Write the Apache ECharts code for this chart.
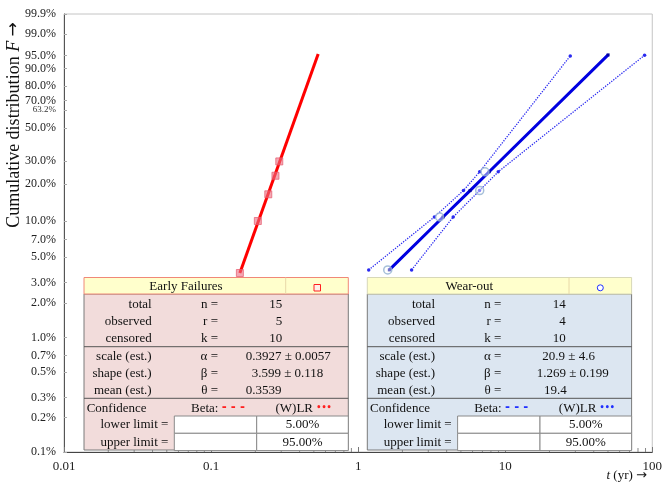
<!DOCTYPE html>
<html><head><meta charset="utf-8">
<script src="https://cdn.jsdelivr.net/npm/echarts@6/dist/echarts.min.js"></script>
<style>html,body{margin:0;padding:0;background:#fff}#c{width:665px;height:487px}</style>
</head><body><div id="c"></div>
<script>
// ---------- data ----------
const yTickF = [99.9, 99, 95, 90, 80, 70, 63.2, 50, 30, 20, 10, 7, 5, 3, 2, 1, 0.7, 0.5, 0.3, 0.2, 0.1];
const xTickLabels = ['0.01', '0.1', '1', '10', '100'];

const redPointsT = [0.157, 0.208, 0.245, 0.274, 0.291];
const redPointsF = [3.64, 10.05, 16.6, 23.2, 29.7];
const redFitT = [0.157, 0.535];
const redFitF = [3.64, 95.4];

const bluePointsT = [1.59, 3.58, 6.71, 7.29];
const bluePointsF = [3.87, 10.85, 17.78, 24.88];
const blueFitT = [1.63, 3.78, 5.77, 7.78, 50.1];
const blueFitF = [3.87, 10.85, 17.78, 24.88, 95.15];
const blueUpperT = [1.18, 3.30, 5.20, 6.71, 27.7];
const blueUpperF = [3.87, 10.85, 17.78, 24.88, 94.85];
const blueLowerT = [2.31, 4.43, 6.69, 8.97, 88.7];
const blueLowerF = [3.87, 10.85, 17.78, 24.88, 95.06];

const rowLabels = ['total', 'observed', 'censored', 'scale (est.)', 'shape (est.)', 'mean (est.)'];
const rowSymbols = ['n =', 'r =', 'k =', 'α =', 'β =', 'θ ='];
const earlyTitle = 'Early Failures';
const earlyValues = ['15', '5', '10', '0.3927 ± 0.0057', '3.599 ± 0.118', '0.3539'];
const wearTitle = 'Wear-out';
const wearValues = ['14', '4', '10', '20.9 ± 4.6', '1.269 ± 0.199', '19.4'];
const confLimitLabels = ['lower limit =', 'upper limit ='];
const confLimitValues = ['5.00%', '95.00%'];

// ---------- helpers ----------
const FONT = 'Liberation Serif';
const W = p => Math.log(-Math.log(1 - p / 100)); // Weibull probability-paper transform
const pairs = (ts, fs) => ts.map((t, i) => [t, W(fs[i])]);
const yMin = W(0.1), yMax = W(99.9);
const yTickVals = yTickF.map(W);

const xMinorTicks = [];
[0.01, 0.1, 1, 10].forEach(d => { for (let k = 2; k <= 9; k++) xMinorTicks.push(+(d * k).toPrecision(2)); });

// ---------- tables ----------
function txt(x, y, text, align, extra) {
  return Object.assign({
    type: 'text', x: x, y: y, z: 100,
    style: { text: text, textAlign: align || 'left', textVerticalAlign: 'middle',
      font: '13px "' + FONT + '"', fill: '#111' }
  }, extra || {});
}
function rect(x, y, w, h, fill, stroke) {
  return { type: 'rect', z: 99, shape: { x: x, y: y, width: w, height: h },
    style: { fill: fill, stroke: stroke, lineWidth: 1 } };
}
function hline(x1, x2, y, color) {
  return { type: 'line', z: 100, shape: { x1: x1, y1: y, x2: x2, y2: y }, style: { stroke: color, lineWidth: 1 } };
}
function vline(x, y1, y2, color) {
  return { type: 'line', z: 100, shape: { x1: x, y1: y1, x2: x, y2: y2 }, style: { stroke: color, lineWidth: 1 } };
}
function buildTable(x0, title, values, valAnchors, bodyFill, headStroke, accent, sym) {
  const els = [];
  const TW = 264.3, top = 277.5, hb = 294, bottom = 450;
  const rowsY = [304.3, 321.7, 339, 356.7, 374, 390.7];
  els.push(rect(x0, hb, TW, bottom - hb, bodyFill, '#7a7a7a'));
  els.push(rect(x0, top, TW, hb - top, '#FFFFCC', headStroke));
  els.push(vline(x0 + 201.7, top, hb, '#e8d8a8'));
  els.push(txt(x0 + 102, 286.5, title, 'center'));
  if (sym === 'rect') {
    els.push({ type: 'rect', z: 101, shape: { x: x0 + 230, y: 284.5, width: 6.5, height: 6.5 },
      style: { fill: '#fff0e8', stroke: accent, lineWidth: 1 } });
  } else {
    els.push({ type: 'circle', z: 101, shape: { cx: x0 + 233, cy: 287.8, r: 3 },
      style: { fill: '#fff', stroke: accent, lineWidth: 1 } });
  }
  els.push(hline(x0, x0 + TW, 346.7, '#555'));
  els.push(hline(x0, x0 + TW, 398.3, '#555'));
  rowsY.forEach((y, i) => {
    els.push(txt(x0 + 67.7, y, rowLabels[i], 'right'));
    els.push(txt(x0 + 134, y, rowSymbols[i], 'right'));
    const a = valAnchors[i];
    els.push(txt(x0 + a[0], y, values[i], a[1]));
  });
  const dashColor = accent;
  els.push(txt(x0 + 2.7, 408.3, 'Confidence', 'left'));
  els.push({ type: 'text', x: x0 + 107, y: 408.3, z: 100,
    style: { text: '{t|Beta: }{c|- - -}', textVerticalAlign: 'middle',
      rich: { t: { fontSize: 13, fontFamily: FONT, fill: '#111' },
              c: { fontSize: 12, fontFamily: 'DejaVu Sans', fontWeight: 'bold', fill: dashColor } } } });
  els.push({ type: 'text', x: x0 + 191.5, y: 408.3, z: 100,
    style: { text: '{t|(W)LR }{c|•••}', textVerticalAlign: 'middle',
      rich: { t: { fontSize: 13, fontFamily: FONT, fill: '#111' },
              c: { fontSize: 8, fontFamily: 'DejaVu Sans', fontWeight: 'bold', fill: dashColor } } } });
  [416, 433.3].forEach((y, i) => {
    els.push(rect(x0 + 90.3, y, 82.4, 17.3, '#ffffff', '#8a8a8a'));
    els.push(rect(x0 + 172.7, y, 91.6, 17.3, '#ffffff', '#8a8a8a'));
    els.push(txt(x0 + 84.4, y + 8.9, confLimitLabels[i], 'right'));
    els.push(txt(x0 + 218.5, y + 8.9, confLimitValues[i], 'center'));
  });
  return els;
}

const graphics = [].concat(
  buildTable(84, earlyTitle, earlyValues,
    [[198.3, 'right'], [198.3, 'right'], [198.3, 'right'], [161.7, 'left'], [167.7, 'left'], [161.7, 'left']],
    '#F2DCDB', '#F08878', '#FF2020', 'rect'),
  buildTable(367.3, wearTitle, wearValues,
    [[198.4, 'right'], [198.4, 'right'], [198.4, 'right'], [175, 'left'], [169.4, 'left'], [176.7, 'left']],
    '#DCE6F1', '#D8D8B8', '#2030FF', 'circle'),
  [
    { type: 'text', x: 14, y: 125, rotation: Math.PI / 2, z: 100,
      style: { text: '{a|Cumulative distribution }{i|F}{a| }{r|→}', textAlign: 'center', textVerticalAlign: 'middle',
        rich: { a: { fontSize: 18, fontFamily: FONT, fill: '#111' },
                i: { fontSize: 18, fontFamily: FONT, fontStyle: 'italic', fill: '#111' },
                r: { fontSize: 17, fontFamily: 'DejaVu Sans', fill: '#111' } } } },
    { type: 'text', x: 647, y: 476, z: 100,
      style: { text: '{i|t}{a| (yr) }{r|→}', textAlign: 'right', textVerticalAlign: 'middle',
        rich: { a: { fontSize: 13, fontFamily: FONT, fill: '#111' },
                i: { fontSize: 13, fontFamily: FONT, fontStyle: 'italic', fill: '#111' },
                r: { fontSize: 13, fontFamily: 'DejaVu Sans', fill: '#111' } } } }
  ]
);

// ---------- chart ----------
const chart = echarts.init(document.getElementById('c'), null, { renderer: 'canvas' });
chart.setOption({
  animation: false,
  backgroundColor: '#fff',
  grid: { left: 64, right: 10, top: 14, bottom: 35, show: true, borderColor: '#c4c4c4', borderWidth: 1 },
  xAxis: {
    type: 'log', logBase: 10, min: 0.01, max: 100,
    axisLine: { onZero: false, lineStyle: { color: '#444', width: 1 } },
    axisTick: { show: true, inside: true, length: 5, lineStyle: { color: '#777' } },
    axisLabel: { margin: 8, fontFamily: FONT, fontSize: 13, color: '#222',
      formatter: v => xTickLabels[Math.round(Math.log10(v)) + 2] },
    splitLine: { show: false }
  },
  yAxis: {
    type: 'value', min: yMin, max: yMax,
    axisLine: { show: true, onZero: false, lineStyle: { color: '#555', width: 1 } },
    axisTick: { show: true, inside: true, length: 3, customValues: yTickVals, lineStyle: { color: '#aaa' } },
    axisLabel: {
      customValues: yTickVals, margin: 8, fontFamily: FONT, fontSize: 12, color: '#222',
      formatter: v => {
        let best = yTickF[0], bd = Infinity;
        yTickF.forEach(f => { const d = Math.abs(W(f) - v); if (d < bd) { bd = d; best = f; } });
        const s = best.toFixed(1) + '%';
        return best === 63.2 ? '{s|' + s + '}' : s;
      },
      rich: { s: { fontSize: 9, fontFamily: FONT, color: '#333' } }
    },
    splitLine: { show: false }
  },
  series: [
    { type: 'custom', silent: true, z: 1, data: xMinorTicks.map(v => [v, yMin]),
      renderItem: (params, api) => {
        const p = api.coord([api.value(0), api.value(1)]);
        return { type: 'line', shape: { x1: p[0], y1: p[1], x2: p[0], y2: p[1] - 4 },
          style: { stroke: '#888', lineWidth: 1 } };
      } },
    { type: 'line', data: pairs(redFitT, redFitF), showSymbol: false,
      lineStyle: { color: '#FF0000', width: 3 }, z: 3 },
    { type: 'scatter', data: pairs(redPointsT, redPointsF), symbol: 'rect', symbolSize: 7,
      itemStyle: { color: 'rgba(235,110,130,0.75)', borderColor: 'rgba(230,90,110,0.9)', borderWidth: 1 }, z: 4 },
    { type: 'line', data: pairs(blueUpperT, blueUpperF), symbol: 'circle', symbolSize: 3.5,
      itemStyle: { color: '#2a2af0' }, lineStyle: { color: '#2a2af0', width: 1.3, type: 'dotted' }, z: 3 },
    { type: 'line', data: pairs(blueLowerT, blueLowerF), symbol: 'circle', symbolSize: 3.5,
      itemStyle: { color: '#2a2af0' }, lineStyle: { color: '#2a2af0', width: 1.3, type: 'dotted' }, z: 3 },
    { type: 'line', data: pairs(blueFitT, blueFitF), symbol: 'rect', symbolSize: 3,
      itemStyle: { color: '#0000A0' }, lineStyle: { color: '#0000E0', width: 3 }, z: 3 },
    { type: 'scatter', data: pairs(bluePointsT, bluePointsF), symbol: 'circle', symbolSize: 8,
      itemStyle: { color: 'rgba(255,255,255,0.55)', borderColor: '#90AFD0', borderWidth: 1.5 }, z: 4 }
  ],
  graphic: graphics
});
</script>
</body></html>
